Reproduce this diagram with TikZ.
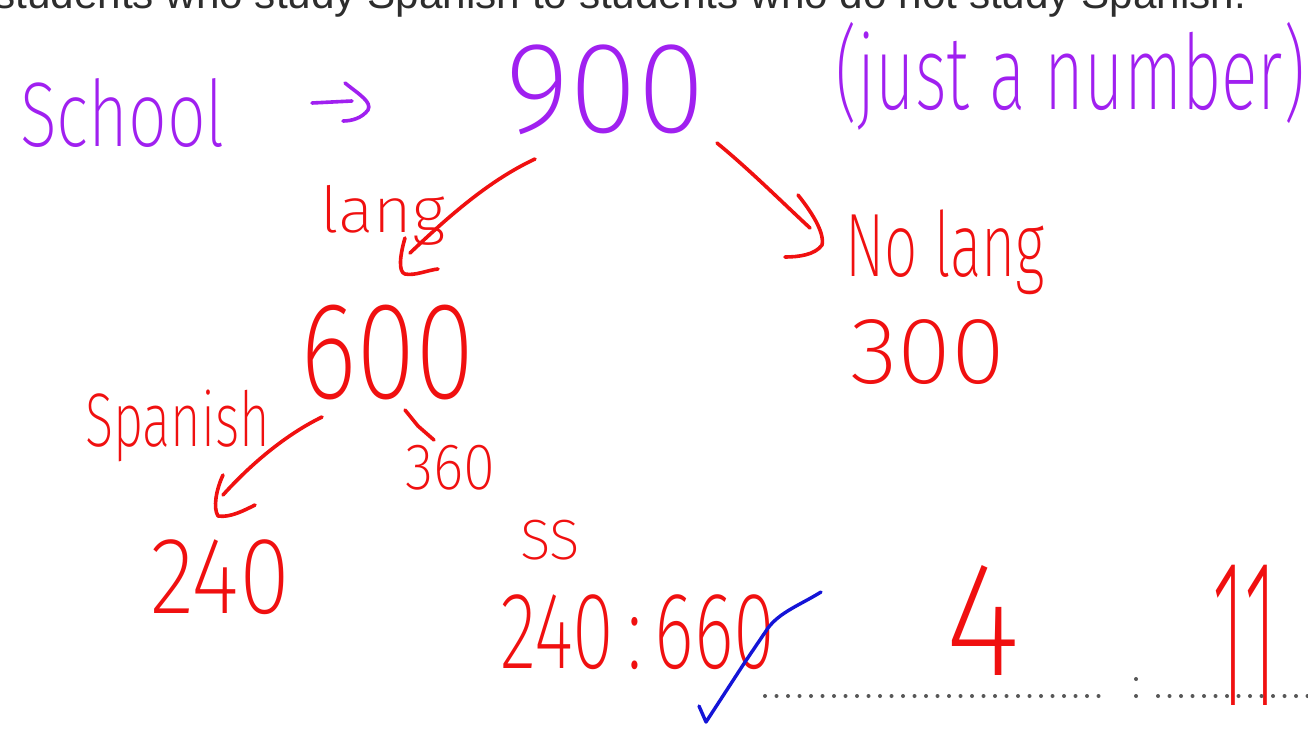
\documentclass[tikz,border=0pt]{standalone}
\usepackage{fontspec}
\setmainfont{Liberation Sans}
\newfontfamily\hand{Fira Sans}[UprightFont={* ExtraLight}]
\usepackage{graphicx}
\definecolor{penpurple}{RGB}{160,32,240}
\definecolor{penred}{RGB}{240,16,16}
\definecolor{penblue}{RGB}{20,20,215}
\definecolor{printgray}{RGB}{45,45,45}
\newcommand\hwbox[3]{\resizebox*{#1pt}{#2pt}{#3}}
\tikzset{
  hw/.style={inner sep=0pt, outer sep=0pt, anchor=north west, font=\hand},
  ptext/.style={hw, text=penpurple},
  rtext/.style={hw, text=penred},
  stroke/.style={line width=3.6pt, line cap=round, line join=round},
  rstroke/.style={stroke, draw=penred},
  pstroke/.style={stroke, draw=penpurple},
  dotmark/.style={fill=printgray!80},
}
\begin{document}
\begin{tikzpicture}[x=1pt,y=-1pt]
\useasboundingbox (0,0) rectangle (1308,728);
\clip (0,0) rectangle (1308,728);
\fill[white] (0,0) rectangle (1308,728);
% printed question (cut off at top)
\node[inner sep=0pt, anchor=base west, text=printgray] (question) at (-6,9)
  {\resizebox{1252pt}{!}{students who study Spanish to students who do not study Spanish.}};
% purple notes
\node[ptext] (school) at (20,78) {\hwbox{205}{69}{School}};
\node[ptext] (nine) at (505,45) {\hwbox{200}{90}{900}};
\node[ptext] (note) at (835,22) {\hwbox{470}{108}{(just a number)}};
\coordinate (ps) at (312,103);
\coordinate (pe) at (352,101);
\draw[pstroke] (ps) -- (pe);
\draw[pstroke] (345,83) .. controls (360,95) and (372,102) .. (368,110) .. controls (362,118) and (352,121) .. (343,121);
% red tree
\node[rtext] (lang) at (320,185) {\hwbox{125}{60}{lang}};
\node[rtext] (nolang) at (845,210) {\hwbox{200}{85}{No lang}};
\node[rtext] (six) at (300,305) {\hwbox{175}{95}{600}};
\node[rtext] (three) at (850,320) {\hwbox{155}{65}{300}};
\node[rtext] (spanish) at (85,390) {\hwbox{185}{72}{Spanish}};
\node[rtext] (t360) at (405,445) {\hwbox{90}{45}{360}};
\node[rtext] (t240) at (150,540) {\hwbox{140}{75}{240}};
\node[rtext] (ss) at (520,520) {\hwbox{60}{40}{SS}};
\node[rtext] (ratio) at (500,595) {\hwbox{275}{75}{240\,:\,660}};
\node[rtext] (four) at (945,565) {\hwbox{75}{110}{4}};
\node[rtext] (eleven) at (1212,565) {\hwbox{65}{140}{11}};
% arrows
\coordinate (a1s) at (535,159);
\coordinate (a1e) at (410,253);
\draw[rstroke] (a1s) .. controls (490,180) and (450,215) .. (a1e);
\draw[rstroke] (405,238) .. controls (400,255) and (398,272) .. (405,274) .. controls (415,276) and (428,270) .. (438,269);
\coordinate (a2s) at (717,143);
\coordinate (a2e) at (810,228);
\draw[rstroke] (a2s) .. controls (750,170) and (785,205) .. (a2e);
\draw[rstroke] (798,195) .. controls (810,210) and (825,232) .. (822,245) .. controls (815,255) and (798,257) .. (785,257);
\coordinate (a3s) at (322,417);
\coordinate (a3e) at (223,495);
\draw[rstroke] (a3s) .. controls (285,435) and (250,465) .. (a3e);
\draw[rstroke] (223,475) .. controls (216,490) and (213,508) .. (218,516) .. controls (230,518) and (245,510) .. (255,505);
\coordinate (tks) at (405,410);
\coordinate (tke) at (434,440);
\draw[rstroke] (tks) -- (418,426) -- (tke);
% blue check
\coordinate (cks) at (699,706);
\coordinate (cke) at (821,592);
\draw[stroke, draw=penblue, line width=3.4pt] (cks) -- (706,722) -- (745,662) -- (768,628) .. controls (780,612) and (800,605) .. (cke);
% dotted answer lines
\foreach \x in {765,776.5,...,1104} \fill[dotmark] (\x,696) circle (2pt);
\fill[dotmark] (1136,679) circle (2pt);
\fill[dotmark] (1136,696) circle (2pt);
\foreach \x in {1158,1169.5,...,1310} \fill[dotmark] (\x,696) circle (2pt);
\end{tikzpicture}
\end{document}
